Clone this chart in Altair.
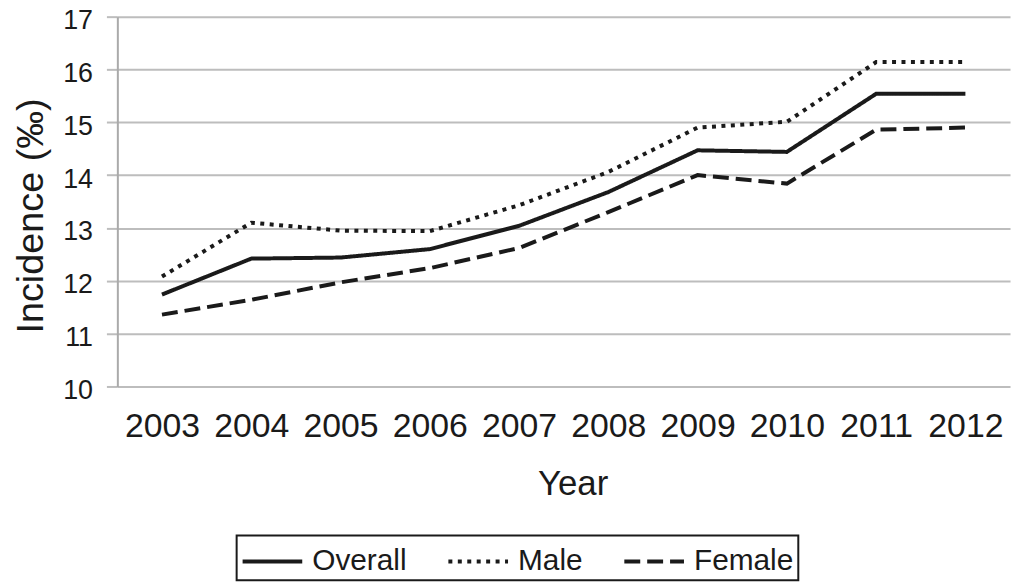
import altair as alt
import pandas as pd

years = ["2003", "2004", "2005", "2006", "2007", "2008", "2009", "2010", "2011", "2012"]
overall = [11.74, 12.42, 12.44, 12.60, 13.04, 13.68, 14.47, 14.44, 15.54, 15.54]
male = [12.08, 13.10, 12.95, 12.94, 13.43, 14.06, 14.90, 15.01, 16.14, 16.14]
female = [11.36, 11.64, 11.97, 12.24, 12.62, 13.30, 14.00, 13.84, 14.86, 14.90]
series = ["Overall", "Male", "Female"]

rows = []
for name, vals in zip(series, [overall, male, female]):
    for y, v in zip(years, vals):
        rows.append({"Year": y, "Incidence": v, "Series": name})
df = pd.DataFrame(rows)

FONT = "Liberation Sans"
INK = "#1a1a1a"

chart = alt.Chart(df).mark_line(strokeWidth=4, color=INK, strokeCap="butt").encode(
    x=alt.X("Year:O", sort=years,
            scale=alt.Scale(type="point", padding=0.5),
            axis=alt.Axis(title="Year", labelAngle=0, domain=False, ticks=False, grid=False,
                          labelFontSize=34, labelPadding=23, labelColor=INK,
                          titleFontSize=35, titleFontWeight="normal", titleColor=INK,
                          titleBaseline="alphabetic", titleY=109, titleX=458,
                          labelFont=FONT, titleFont=FONT)),
    y=alt.Y("Incidence:Q", scale=alt.Scale(domain=[10, 17], nice=False, zero=False),
            axis=alt.Axis(title="Incidence (‰)", values=[10, 11, 12, 13, 14, 15, 16, 17],
                          grid=True, gridColor="#bdbdbd", gridWidth=2,
                          domainColor="#aaaaaa", domainWidth=2,
                          tickColor="#bdbdbd", tickSize=11, tickWidth=2,
                          labelFontSize=27, labelPadding=14, labelColor=INK, labelOffset=4,
                          titleFontSize=38, titleFontWeight="normal", titleColor=INK,
                          titleBaseline="alphabetic", titleX=-75, titleY=200, titleAngle=270,
                          labelFont=FONT, titleFont=FONT)),
    strokeDash=alt.StrokeDash("Series:N", sort=series,
                              scale=alt.Scale(domain=series, range=[[1, 0], [4, 5.5], [16, 7]]),
                              legend=alt.Legend(title=None, orient="none", direction="horizontal",
                                                legendX=120, legendY=522,
                                                symbolType="M-1,0H2", symbolSize=1600,
                                                symbolStrokeWidth=4, symbolStrokeColor=INK,
                                                labelFontSize=30, labelFont=FONT, labelColor=INK,
                                                labelOffset=28, columnPadding=33,
                                                strokeColor=INK, padding=4,
                                                labelLimit=300)),
).properties(
    width=898, height=372,
    autosize=alt.AutoSizeParams(type="none"),
    padding={"left": 110, "top": 7, "right": 6, "bottom": 196},
).configure_view(stroke=None).configure_legend(strokeWidth=2)

chart.save("out.html", embed_options={"renderer": "svg", "actions": False})
